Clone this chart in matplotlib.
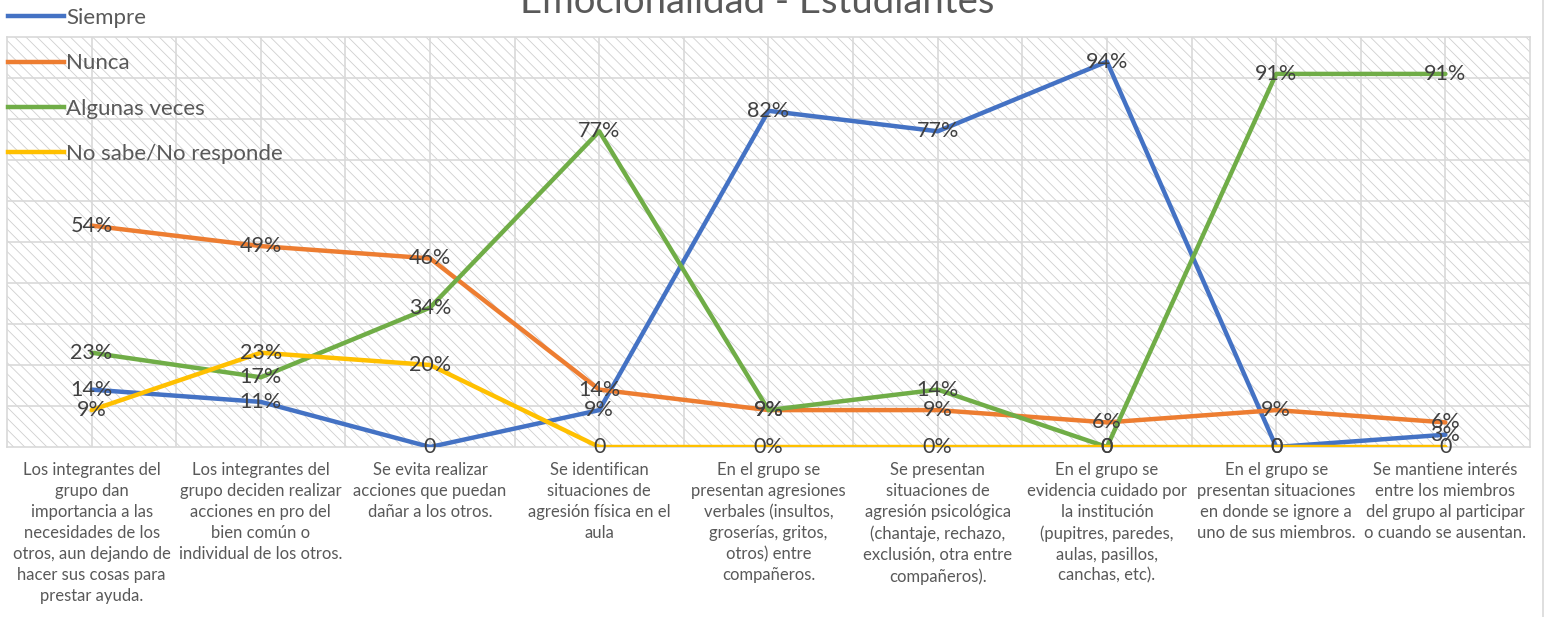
import numpy as np
import matplotlib
matplotlib.use("Agg")
import matplotlib.pyplot as plt
from matplotlib.patches import Rectangle
from matplotlib.lines import Line2D

plt.rcParams['font.family'] = ['Lato', 'DejaVu Sans']
plt.rcParams['hatch.linewidth'] = 0.6

title = "Emocionalidad - Estudiantes"
categories = [
    "Los integrantes del\ngrupo dan\nimportancia a las\nnecesidades de los\notros, aun dejando de\nhacer sus cosas para\nprestar ayuda.",
    "Los integrantes del\ngrupo deciden realizar\nacciones en pro del\nbien común o\nindividual de los otros.",
    "Se evita realizar\nacciones que puedan\ndañar a los otros.",
    "Se identifican\nsituaciones de\nagresión física en el\naula",
    "En el grupo se\npresentan agresiones\nverbales (insultos,\ngroserías, gritos,\notros) entre\ncompañeros.",
    "Se presentan\nsituaciones de\nagresión psicológica\n(chantaje, rechazo,\nexclusión, otra entre\ncompañeros).",
    "En el grupo se\nevidencia cuidado por\nla institución\n(pupitres, paredes,\naulas, pasillos,\ncanchas, etc).",
    "En el grupo se\npresentan situaciones\nen donde se ignore a\nuno de sus miembros.",
    "Se mantiene interés\nentre los miembros\ndel grupo al participar\no cuando se ausentan.",
]
series_names = ["Siempre", "Nunca", "Algunas veces", "No sabe/No responde"]
siempre = [14, 11, 0, 9, 82, 77, 94, 0, 3]
nunca = [54, 49, 46, 14, 9, 9, 6, 9, 6]
algunas = [23, 17, 34, 77, 9, 14, 0, 91, 91]
no_sabe = [9, 23, 20, 0, 0, 0, 0, 0, 0]
siempre_lbl = ["14%", "11%", "0", "9%", "82%", "77%", "94%", "0", "3%"]
nunca_lbl = ["54%", "49%", "46%", "14%", "9%", "9%", "6%", "9%", "6%"]
algunas_lbl = ["23%", "17%", "34%", "77%", "9%", "14%", "0", "91%", "91%"]
no_sabe_lbl = ["9%", "23%", "20%", "0", "0%", "0%", "0", "0", "0"]
colors = ["#4472C4", "#ED7D31", "#70AD47", "#FFC000"]

W, H = 1546, 617
fig = plt.figure(figsize=(W / 100, H / 100), dpi=100)
ax = fig.add_axes([7 / W, (H - 447) / H, (1530 - 7) / W, (447 - 37) / H])

x = np.arange(len(categories))
ax.set_xlim(-0.5, len(categories) - 0.5)
ax.set_ylim(0, 100)

# hatched background
ax.add_patch(Rectangle((0, 0), 1, 1, transform=ax.transAxes, fill=False,
                       hatch='\\\\\\', edgecolor='#cfcfcf', lw=0, zorder=0))
for yv in np.arange(10, 100, 10):
    ax.axhline(yv, color='#d9d9d9', lw=1.2, zorder=1)
for xv in np.arange(0, len(categories) - 0.5, 0.5):
    ax.axvline(xv, color='#d9d9d9', lw=1.2, zorder=1)

data = [siempre, nunca, algunas, no_sabe]
labels = [siempre_lbl, nunca_lbl, algunas_lbl, no_sabe_lbl]
for vals, c in zip(data, colors):
    ax.plot(x, vals, color=c, lw=3.2, solid_capstyle='round', zorder=3)
for vals, lbls in zip(data, labels):
    for xi, v, t in zip(x, vals, lbls):
        ax.text(xi, v, t, ha='center', va='center', fontsize=15.5,
                color='#404040', zorder=5)

for s in ax.spines.values():
    s.set_color('#d9d9d9')
    s.set_linewidth(1.2)
ax.set_yticks([])
ax.set_xticks(x)
ax.set_xticklabels(categories, fontsize=12, color='#595959',
                   linespacing=1.38, va='top')
ax.tick_params(axis='x', length=0, pad=11)

handles = [Line2D([0], [0], color=c, lw=3.2) for c in colors]
fig.legend(handles, series_names, loc='upper left',
           bbox_to_anchor=(8 / W, 1 - 8 / H), frameon=False, fontsize=16,
           labelcolor='#595959', handlelength=2.5, handletextpad=0.12,
           labelspacing=1.14, borderpad=0, borderaxespad=0)

fig.text(757 / W, 1 - 13 / H, title, ha='center', va='baseline',
         fontsize=27.5, color='#595959')
fig.add_artist(Line2D([1543 / W, 1543 / W], [0, 1], color='#d9d9d9', lw=1.2))

fig.savefig("out.png", dpi=100)
